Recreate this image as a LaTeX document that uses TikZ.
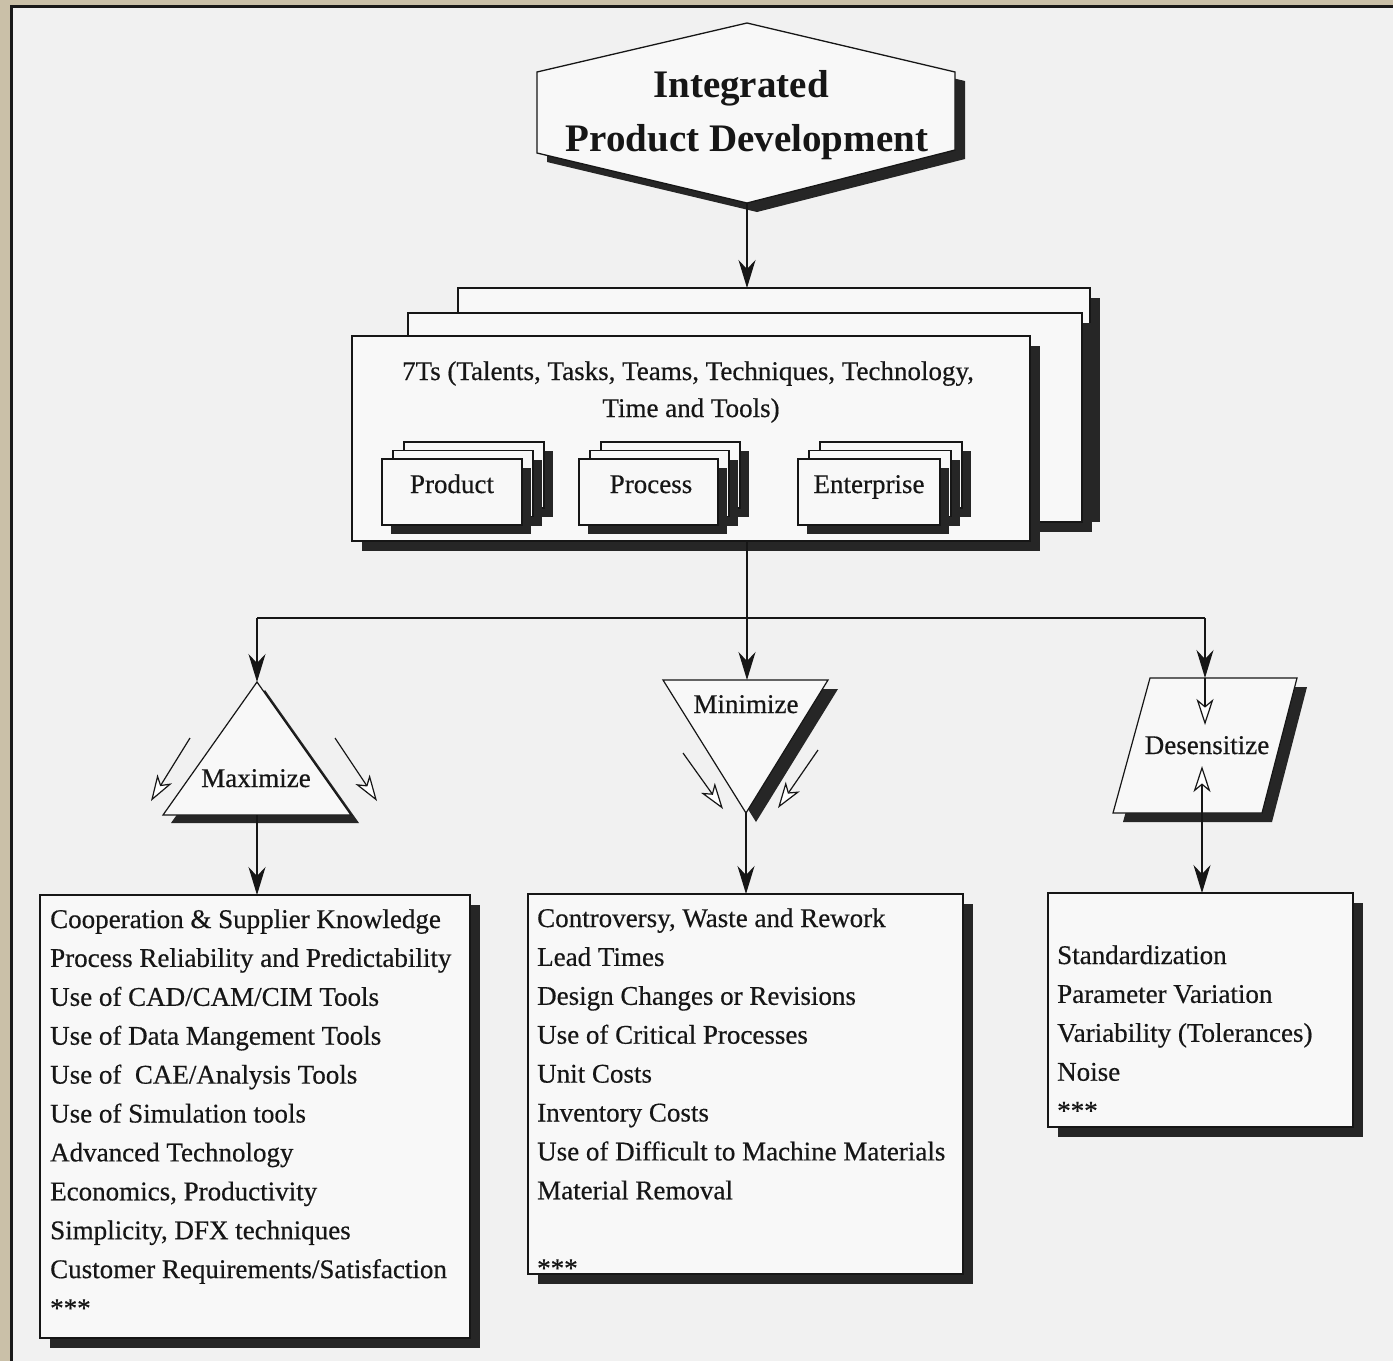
\documentclass[tikz,border=0pt]{standalone}
\usepackage{fontspec}
\setmainfont{Liberation Serif}
\newfontfamily\scanfont{Liberation Serif}[FakeBold=0.5]
\usetikzlibrary{arrows.meta,calc,shadows}
\definecolor{bg}{RGB}{241,241,241}
\definecolor{boxfill}{RGB}{248,248,248}
\definecolor{ink}{RGB}{22,22,22}
\definecolor{shd}{RGB}{38,38,38}
\definecolor{frametan}{RGB}{202,192,168}
\tikzset{
  line/.style={draw=ink, line width=1.5pt},
  conn/.style={line, -{Stealth[length=28pt,width=17pt,inset=9pt]}},
  openarr/.style={draw=ink, line width=1.2pt, -{Stealth[open,length=26pt,width=17pt,inset=7pt,fill=white]}},
  rbox/.style={draw=ink, line width=1.4pt, fill=boxfill, inner sep=0pt, outer sep=0pt,
    drop shadow={shadow xshift=10pt, shadow yshift=-10pt, fill=shd, opacity=1}},
  sbox/.style={draw=ink, line width=1.2pt, fill=boxfill, inner sep=0pt, outer sep=0pt,
    minimum height=66pt, drop shadow={shadow xshift=9pt, shadow yshift=-9pt, fill=shd, opacity=1}},
  txt/.style={text=ink, inner sep=0pt, font=\scanfont\fontsize{27}{39}\selectfont},
  item/.style={txt, anchor=base west},
  lbl/.style={txt, anchor=base},
  title/.style={text=ink, inner sep=0pt, anchor=base, font=\bfseries\fontsize{39}{54}\selectfont},
}
\begin{document}
\begin{tikzpicture}[x=1pt,y=-1pt]
\useasboundingbox (0,0) rectangle (1393,1361);
% page background and frame
\fill[bg] (0,0) rectangle (1393,1361);
\fill[frametan] (0,0) rectangle (1393,5);
\fill[frametan] (0,0) rectangle (10,1361);
\fill[black!90] (10,5) rectangle (1393,8);
\fill[black!90] (10,5) rectangle (13,1361);

% ---------- hexagon: Integrated Product Development
\coordinate (hexT) at (747,23);
\coordinate (hexUR) at (955,72);
\coordinate (hexLR) at (955,150);
\coordinate (hexB) at (747,203);
\coordinate (hexLL) at (537,153);
\coordinate (hexUL) at (537,72);
\fill[shd] ($(hexT)+(10,9)$) -- ($(hexUR)+(10,9)$) -- ($(hexLR)+(10,9)$) -- ($(hexB)+(10,9)$) -- ($(hexLL)+(10,9)$) -- ($(hexUL)+(10,9)$) -- cycle;
\filldraw[line, fill=boxfill, line width=1.3pt] (hexT) -- (hexUR) -- (hexLR) -- (hexB) -- (hexLL) -- (hexUL) -- cycle;
\node[title] (ipd1) at (741,97) {Integrated};
\node[title] (ipd2) at (747,151) {Product Development};

% ---------- 7Ts stack
\node[rbox, minimum width=632pt, minimum height=224pt] (back) at (774,400) {};
\node[rbox, minimum width=674pt, minimum height=209pt] (mid) at (745,417.5) {};
\node[rbox, minimum width=678pt, minimum height=205pt] (front) at (691,438.5) {};
\node[lbl] (t7a) at (688,380) {7Ts (Talents, Tasks, Teams, Techniques, Technology,};
\node[lbl] (t7b) at (691,417) {Time and Tools)};

% small stacked boxes
\node[sbox, minimum width=140pt] (prod3) at (474,475) {};
\node[sbox, minimum width=140pt] (prod2) at (463,483.5) {};
\node[sbox, minimum width=140pt] (prod1) at (452,492) {};
\node[lbl] (prodl) at (452,493) {Product};
\node[sbox, minimum width=139pt] (proc3) at (670.5,475) {};
\node[sbox, minimum width=139pt] (proc2) at (659.5,483.5) {};
\node[sbox, minimum width=139pt] (proc1) at (648.5,492) {};
\node[lbl] (procl) at (651,493) {Process};
\node[sbox, minimum width=142pt] (ent3) at (891,475) {};
\node[sbox, minimum width=142pt] (ent2) at (880,483.5) {};
\node[sbox, minimum width=142pt] (ent1) at (869,492) {};
\node[lbl] (entl) at (869,493) {Enterprise};

\draw[conn] (hexB) -- (hexB |- back.north);

% ---------- bus
\coordinate (busL) at (257,618);
\coordinate (busM) at (747,618);
\coordinate (busR) at (1205,618);
\draw[line] (front.south -| busM) -- (busM);
\draw[line] (busL) -- (busR);

% ---------- Maximize
\coordinate (maxA) at (257,682);
\coordinate (maxBL) at (163,815);
\coordinate (maxBR) at (351,815);
\coordinate (maxBot) at (257,815);
\fill[shd] ($(maxA)+(8,8)$) -- ($(maxBR)+(8,8)$) -- ($(maxBL)+(8,8)$) -- cycle;
\filldraw[line, fill=boxfill, line width=1.2pt] (maxA) -- (maxBR) -- (maxBL) -- cycle;
\node[lbl] (maxl) at (256,787) {Maximize};
\draw[conn] (busL) -- (maxA);
\coordinate (mo1s) at (190,738); \coordinate (mo1e) at (151,801);
\coordinate (mo2s) at (335,738); \coordinate (mo2e) at (377,801);
\draw[openarr] (mo1s) -- (mo1e);
\draw[openarr] (mo2s) -- (mo2e);

% ---------- Minimize
\coordinate (minTL) at (663,680);
\coordinate (minTR) at (828,680);
\coordinate (minB) at (746,813);
\coordinate (minT) at (747,680);
\fill[shd] ($(minTL)+(10,9)$) -- ($(minTR)+(10,9)$) -- ($(minB)+(10,9)$) -- cycle;
\filldraw[line, fill=boxfill, line width=1.2pt] (minTL) -- (minTR) -- (minB) -- cycle;
\node[lbl] (minl) at (746,713) {Minimize};
\draw[conn] (busM) -- (minT);
\coordinate (mi1s) at (683,753); \coordinate (mi1e) at (723,809);
\coordinate (mi2s) at (818,750); \coordinate (mi2e) at (778,808);
\draw[openarr] (mi1s) -- (mi1e);
\draw[openarr] (mi2s) -- (mi2e);

% ---------- Desensitize
\coordinate (desTL) at (1150,678);
\coordinate (desTR) at (1297,678);
\coordinate (desBR) at (1262,813);
\coordinate (desBL) at (1113,813);
\coordinate (desT) at (1205,678);
\coordinate (desB) at (1202,813);
\fill[shd] ($(desTL)+(10,9)$) -- ($(desTR)+(10,9)$) -- ($(desBR)+(10,9)$) -- ($(desBL)+(10,9)$) -- cycle;
\filldraw[line, fill=boxfill, line width=1.2pt] (desTL) -- (desTR) -- (desBR) -- (desBL) -- cycle;
\node[lbl] (desl) at (1207,754) {Desensitize};
\draw[conn] (busR) -- (desT);
\coordinate (dsoE) at (1205,725);
\coordinate (dsuE) at (1202,766);
\draw[openarr] (desT) -- (dsoE);
\draw[openarr] (desB) -- (dsuE);

% ---------- list boxes
\node[rbox, minimum width=430pt, minimum height=443pt] (L) at (255,1116.5) {};
\node[rbox, minimum width=435pt, minimum height=380pt] (M) at (745.5,1084) {};
\node[rbox, minimum width=305pt, minimum height=234pt] (R) at (1200.5,1010) {};

\draw[conn] (maxBot) -- (maxBot |- L.north);
\draw[conn] (minB) -- (minB |- M.north);
\draw[conn] (desB) -- (desB |- R.north);

\foreach \t [count=\i] in {Cooperation \& Supplier Knowledge, Process Reliability and Predictability,
  Use of CAD/CAM/CIM Tools, Use of Data Mangement Tools, Use of~ CAE/Analysis Tools,
  Use of Simulation tools, Advanced Technology, {Economics, Productivity},
  {Simplicity, DFX techniques}, Customer Requirements/Satisfaction, ***}
  \node[item] (Lt\i) at (50,{928+38.9*(\i-1)}) {\t};

\foreach \t [count=\i] in {{Controversy, Waste and Rework}, Lead Times, Design Changes or Revisions,
  Use of Critical Processes, Unit Costs, Inventory Costs, Use of Difficult to Machine Materials,
  Material Removal}
  \node[item] (Mt\i) at (537,{927+38.9*(\i-1)}) {\t};
\node[item] (Mstar) at (537,1277) {***};

\foreach \t [count=\i] in {Standardization, Parameter Variation, Variability (Tolerances), Noise, ***}
  \node[item] (Rt\i) at (1057,{964+38.9*(\i-1)}) {\t};
\end{tikzpicture}
\end{document}
